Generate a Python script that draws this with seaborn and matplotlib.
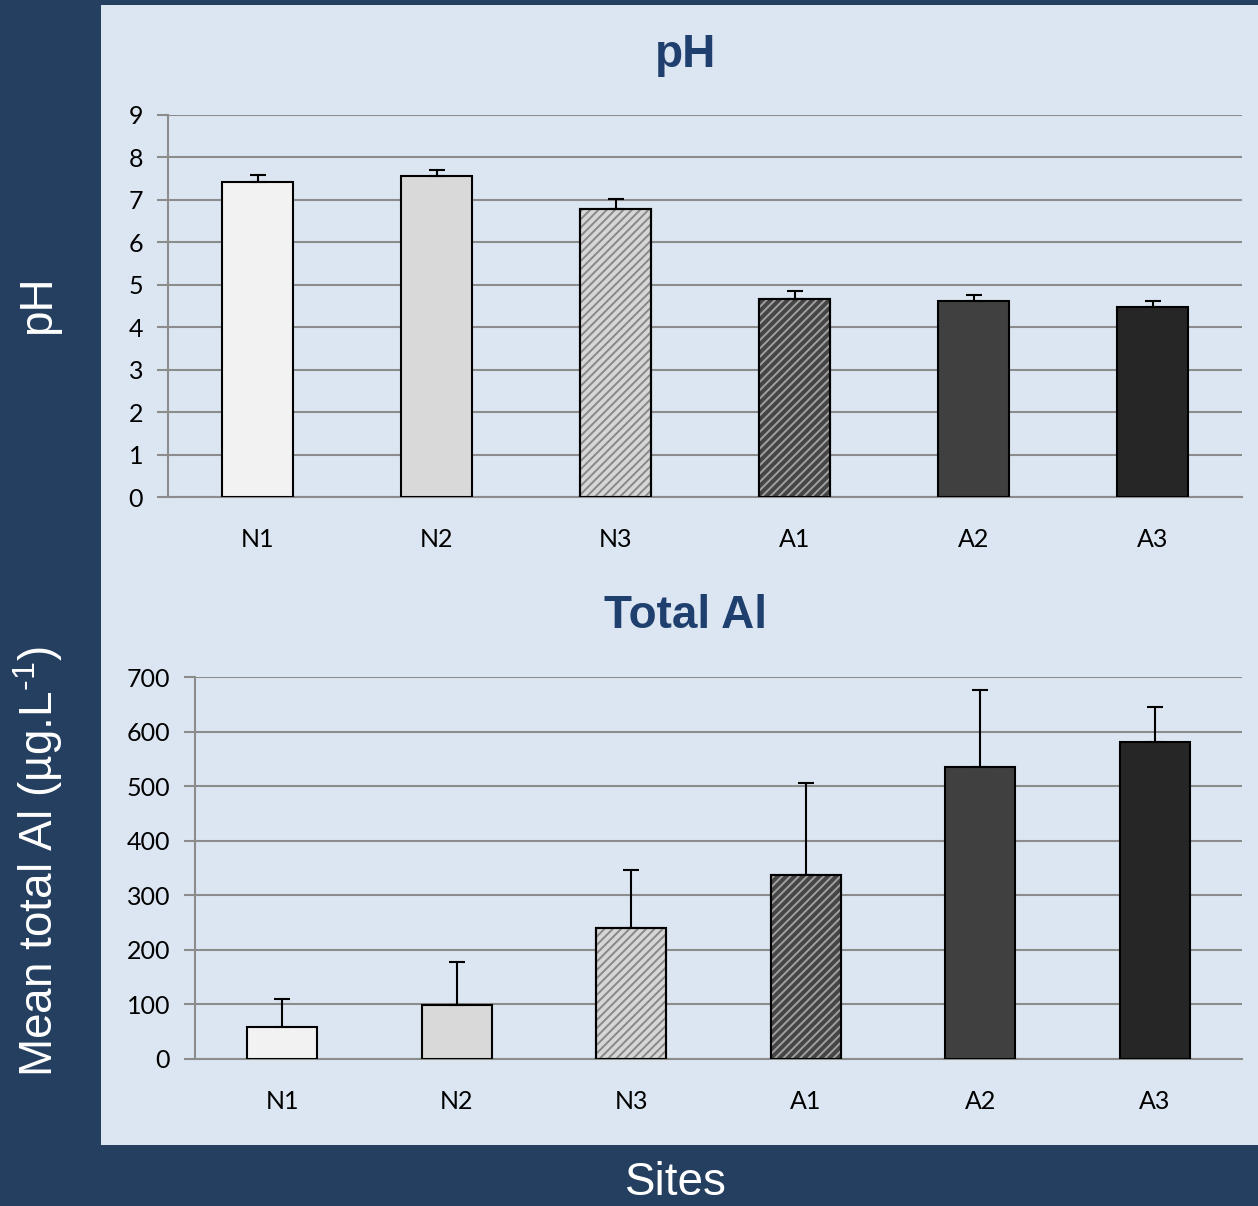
import matplotlib
matplotlib.use("Agg")
import matplotlib.pyplot as plt
import seaborn as sns
import numpy as np
import pandas as pd

# ---- data ----
sites = ["N1", "N2", "N3", "A1", "A2", "A3"]
ph_mean = [7.43, 7.56, 6.79, 4.66, 4.62, 4.48]
ph_err = [0.15, 0.14, 0.23, 0.19, 0.14, 0.14]
al_mean = [59, 99, 240, 337, 535, 581]
al_err = [51, 79, 106, 169, 141, 64]
ph_ticks = list(range(0, 10))
al_ticks = list(range(0, 701, 100))

bar_colors = ["#f2f2f2", "#d9d9d9", "#d6d6d6", "#454545", "#404040", "#262626"]
hatch_colors = [None, None, "#888888", "#a0a0a0", None, None]

NAVY = "#243f60"
PANEL = "#dce6f2"
TITLE = "#1f3f6e"
GRID = "#8c8c8c"

sns.set_style("white")
plt.rcParams["font.family"] = ["Liberation Sans", "DejaVu Sans"]
plt.rcParams["mathtext.fontset"] = "custom"
plt.rcParams["mathtext.rm"] = "Liberation Sans"
plt.rcParams["mathtext.it"] = "Liberation Sans"
plt.rcParams["hatch.linewidth"] = 1.4

fig = plt.figure(figsize=(12.58, 12.06), dpi=100, facecolor=NAVY)
bg = fig.add_axes([101 / 1258, 1 - 1145 / 1206, 1 - 101 / 1258, (1145 - 5) / 1206])
bg.set_facecolor(PANEL)
bg.set_xticks([])
bg.set_yticks([])
for s in bg.spines.values():
    s.set_visible(False)
bg.set_zorder(0)

ax1 = fig.add_axes([168 / 1258, 1 - 497 / 1206, (1242 - 168) / 1258, 382 / 1206])
ax2 = fig.add_axes([195 / 1258, 1 - 1059 / 1206, (1242 - 195) / 1258, 382 / 1206])
ax1.set_zorder(1)
ax2.set_zorder(1)


def draw(ax, means, errs, ticks, ymax):
    df = pd.DataFrame({"site": sites, "val": means})
    sns.barplot(data=df, x="site", y="val", hue="site", palette=bar_colors,
                legend=False, width=0.4, edgecolor="black", linewidth=1.5,
                ax=ax, zorder=3)
    ax.set_facecolor("none")
    pos = np.arange(len(sites))
    # hatched overlays
    for i, hc in enumerate(hatch_colors):
        if hc is not None:
            ax.bar(pos[i], means[i], width=0.4, color="none", edgecolor=hc,
                   hatch="////", linewidth=0, zorder=4)
            ax.bar(pos[i], means[i], width=0.4, color="none", edgecolor="black",
                   linewidth=1.5, zorder=5)
    ax.errorbar(pos, means, yerr=[np.zeros(len(errs)), errs], fmt="none",
                ecolor="black", elinewidth=1.5, capsize=6, capthick=1.5, zorder=6)
    ax.set_xlim(-0.5, len(sites) - 0.5)
    ax.set_ylim(0, ymax)
    ax.set_yticks(ticks)
    ax.set_xticks(pos)
    ax.set_xticklabels(sites)
    ax.set_xticks(np.arange(-0.5, len(sites), 1), minor=True)
    ax.set_xlabel("")
    ax.set_ylabel("")
    ax.yaxis.grid(True, color=GRID, linewidth=1.5, zorder=0)
    ax.xaxis.grid(False)
    ax.set_axisbelow(True)
    for s in ["top", "right"]:
        ax.spines[s].set_visible(False)
    for s in ["left", "bottom"]:
        ax.spines[s].set_color(GRID)
        ax.spines[s].set_linewidth(1.5)
        ax.spines[s].set_zorder(2)
    ax.tick_params(axis="x", which="major", length=0, pad=22, labelsize=18,
                   labelcolor="black")
    ax.tick_params(axis="x", which="minor", length=8, width=1.5, color=GRID,
                   direction="out")
    ax.tick_params(axis="y", length=8, width=1.5, color=GRID, direction="out",
                   pad=10, labelsize=18, labelcolor="black", left=True)
    for lab in ax.get_xticklabels() + ax.get_yticklabels():
        lab.set_fontfamily(["Lato", "DejaVu Sans"])


draw(ax1, ph_mean, ph_err, ph_ticks, 9)
draw(ax2, al_mean, al_err, al_ticks, 700)

fig.text(686 / 1258, 1 - 55 / 1206, "pH", ha="center", va="center",
         fontsize=33, fontweight="bold", color=TITLE, zorder=5)
fig.text(686 / 1258, 1 - 616 / 1206, "Total Al", ha="center", va="center",
         fontsize=33, fontweight="bold", color=TITLE, zorder=5)
fig.text(38 / 1258, 1 - 305 / 1206, "pH", ha="center", va="center",
         rotation=90, fontsize=33, color="white")
fig.text(38 / 1258, 1 - 862 / 1206, r"Mean total Al (µg.L$^{\text{-1}}$)",
         ha="center", va="center", rotation=90, fontsize=33, color="white")
fig.text(676 / 1258, 1 - 1183 / 1206, "Sites", ha="center", va="center",
         fontsize=33, color="white")

fig.savefig("out.png", dpi=100, facecolor=NAVY)
